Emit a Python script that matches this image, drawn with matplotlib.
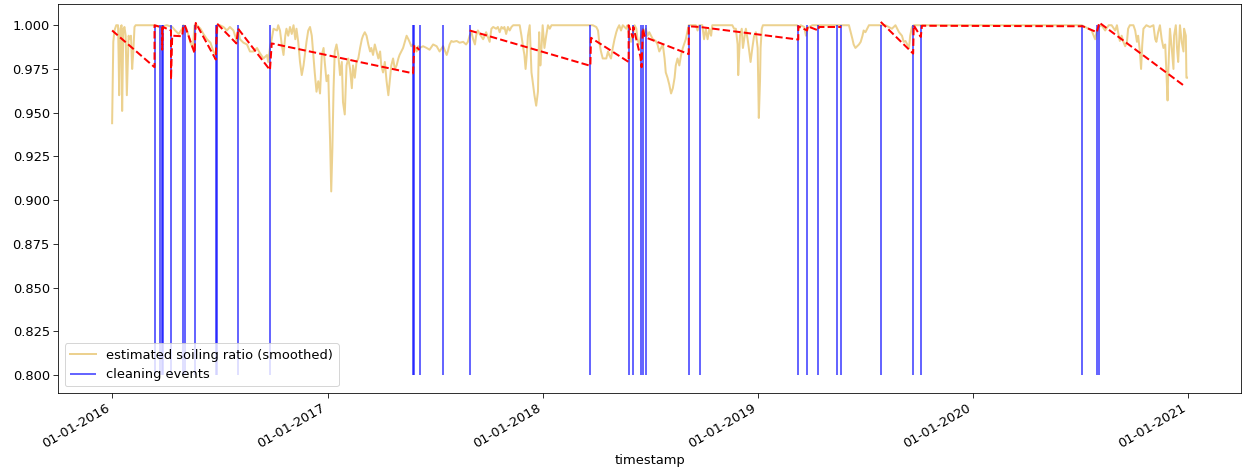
import numpy as np
import pandas as pd
import matplotlib
matplotlib.use("Agg")
import matplotlib.pyplot as plt
import matplotlib.dates as mdates

START = pd.Timestamp("2016-01-01")

# estimated soiling ratio (smoothed): days since 2016-01-01 and value
sr_days = [0, 2, 4, 7, 10, 11, 12, 14, 16, 17, 19, 21, 23, 25, 28, 30, 32, 34, 36, 38,
           40, 70, 82, 93, 102, 107, 113, 119, 121, 126, 130, 133, 137, 140, 144, 150,
           155, 161, 167, 172, 176, 179, 183, 189, 195, 200, 206, 212, 214, 217, 223,
           229, 234, 240, 246, 251, 257, 263, 265, 268, 271, 274, 280, 282, 285, 288,
           291, 294, 296, 299, 302, 305, 308, 311, 313, 316, 319, 322, 325, 328, 330,
           333, 336, 339, 342, 344, 347, 350, 353, 356, 359, 361, 364, 367, 370, 372,
           374, 376, 378, 381, 384, 387, 390, 392, 395, 398, 401, 404, 407, 409, 412,
           415, 418, 421, 424, 426, 429, 432, 435, 438, 440, 443, 446, 449, 452, 455,
           457, 460, 463, 466, 469, 472, 474, 477, 480, 483, 486, 488, 491, 494, 497,
           500, 503, 505, 508, 511, 514, 517, 520, 522, 528, 534, 539, 545, 551, 556,
           562, 568, 570, 573, 576, 579, 585, 590, 596, 601, 604, 607, 610, 613, 616,
           618, 621, 624, 630, 635, 641, 644, 647, 652, 655, 658, 661, 664, 666, 669,
           672, 675, 678, 681, 692, 695, 698, 700, 702, 704, 706, 709, 712, 714, 717,
           720, 723, 725, 727, 729, 731, 734, 737, 740, 743, 746, 810, 816, 822, 825,
           827, 830, 833, 839, 842, 844, 847, 850, 853, 856, 858, 861, 864, 867, 873,
           875, 878, 881, 884, 887, 890, 892, 895, 898, 901, 904, 906, 909, 912, 918,
           923, 926, 929, 932, 935, 938, 940, 943, 946, 949, 952, 955, 957, 960, 963,
           966, 969, 971, 974, 979, 991, 994, 997, 1002, 1005, 1008, 1011, 1014, 1017,
           1019, 1053, 1056, 1059, 1062, 1063, 1066, 1069, 1071, 1074, 1076, 1079,
           1081, 1084, 1087, 1090, 1093, 1096, 1097, 1098, 1100, 1101, 1103, 1105,
           1163, 1166, 1169, 1175, 1178, 1180, 1183, 1189, 1251, 1254, 1257, 1259,
           1262, 1265, 1268, 1271, 1274, 1276, 1279, 1282, 1285, 1313, 1324, 1330,
           1336, 1341, 1344, 1347, 1350, 1353, 1355, 1358, 1361, 1641, 1646, 1652,
           1658, 1663, 1669, 1672, 1675, 1680, 1686, 1692, 1697, 1703, 1706, 1708,
           1711, 1714, 1717, 1720, 1723, 1725, 1728, 1734, 1737, 1740, 1742, 1745,
           1747, 1749, 1751, 1756, 1762, 1768, 1771, 1773, 1776, 1779, 1782, 1785,
           1788, 1790, 1792, 1793, 1796, 1799, 1802, 1803, 1806, 1808, 1810, 1813,
           1816, 1819, 1820, 1823, 1824, 1825]
sr_vals = [0.944, 0.9905, 0.997, 1.0, 1.0, 0.983, 0.960, 0.998, 1.0, 0.951, 0.998, 0.999,
           0.994, 0.960, 0.994, 0.992, 0.994, 0.975, 0.985, 0.999,
           1.0, 1.0, 0.999, 1.0, 0.999, 0.997, 0.995, 0.998, 1.0, 0.998, 0.994, 0.990,
           0.987, 1.0, 1.0, 0.998,
           0.995, 0.992, 0.990, 0.985, 0.983, 1.0, 1.0, 0.999, 0.997, 0.999, 0.997,
           0.9905, 0.998, 0.992, 0.990,
           0.989, 0.985, 0.985, 0.987, 0.984, 0.981, 0.983, 0.979, 0.987, 0.992, 0.998,
           0.997, 1.0, 0.997, 0.989,
           0.983, 0.994, 0.998, 0.994, 0.999, 0.995, 1.0, 0.992, 0.998, 0.9905, 0.979,
           0.9715, 0.977, 0.985, 0.9905,
           0.997, 0.999, 0.994, 0.981, 0.973, 0.962, 0.968, 0.961, 0.983, 0.987, 0.979,
           0.968, 0.9715, 0.935, 0.905,
           0.930, 0.964, 0.985, 0.989, 0.983, 0.9715, 0.979, 0.956, 0.949, 0.977, 0.981,
           0.975, 0.964, 0.977, 0.970,
           0.979, 0.981, 0.987, 0.992, 0.994, 0.996, 0.994, 0.989, 0.985, 0.987, 0.983,
           0.989, 0.985, 0.981, 0.985,
           0.977, 0.973, 0.979, 0.968, 0.960, 0.970, 0.977, 0.981, 0.975, 0.977, 0.981,
           0.983, 0.985, 0.987, 0.9905,
           0.994, 0.992, 0.9905, 0.988, 0.989, 0.987, 0.985, 0.988, 0.987, 0.988, 0.987,
           0.986, 0.989, 0.988, 0.985,
           0.988, 0.983, 0.985, 0.989, 0.991, 0.9905, 0.991, 0.990, 0.9905, 0.989, 0.9905,
           0.994, 0.996, 0.992, 0.989,
           0.994, 0.997, 0.995, 0.992, 0.996, 0.9905, 0.998, 0.999, 0.998, 0.999, 0.996,
           0.999, 0.998, 0.999, 0.995,
           0.999, 0.997, 0.999, 1.0, 1.0, 0.994, 0.987, 0.983, 0.975, 0.983, 0.994, 1.0,
           0.973, 0.968, 0.960,
           0.954, 0.962, 0.996, 0.977, 0.987, 1.0, 0.987, 0.994, 1.0, 0.998, 1.0, 1.0,
           1.0, 0.999, 0.997,
           0.9905, 0.985, 0.981, 0.981, 0.985, 0.983, 0.981, 0.987, 0.992, 0.996, 0.998,
           1.0, 0.997, 1.0, 0.998,
           1.0, 0.994, 0.9905, 0.994, 1.0, 0.998, 0.992, 0.989, 0.994, 0.998, 0.996,
           0.998, 0.994, 0.996, 0.992,
           0.991, 0.989, 0.985, 0.987, 0.989, 0.981, 0.973, 0.970, 0.966, 0.961, 0.964,
           0.970, 0.977, 0.981, 0.977,
           0.983, 0.987, 0.989, 0.992, 1.0, 1.0, 0.997, 1.0, 1.0, 0.992, 0.998, 0.992,
           0.998, 0.994,
           1.0, 1.0, 0.998, 0.998, 0.989, 0.9715, 0.994, 0.998, 0.987, 0.994, 0.998,
           0.992,
           0.987, 0.979, 0.987, 0.994, 0.996, 0.987, 0.968, 0.947, 0.968, 0.987, 0.998,
           1.0,
           1.0, 0.998, 1.0, 0.999, 0.994, 0.998, 0.999, 1.0, 1.0, 0.996, 0.992, 0.989,
           0.987, 0.988, 0.989, 0.9905, 0.994, 0.997, 0.996, 0.998, 1.0, 1.0, 0.998, 1.0,
           0.996, 0.994, 0.9905, 0.991, 0.989, 0.987, 0.994, 0.999, 1.0, 1.0, 1.0, 0.999,
           0.998, 0.997, 0.992, 0.997, 0.999, 1.0, 0.997, 1.0, 1.0, 0.997, 1.0, 0.996,
           0.991, 0.994, 0.9905, 0.988, 0.9905, 0.998, 1.0, 1.0, 0.997, 0.9905, 0.994,
           0.985,
           0.975, 0.989, 0.998, 1.0, 0.999, 1.0, 0.992, 0.9905, 0.996, 1.0, 0.992, 0.987,
           0.989, 0.973, 0.957, 0.9715, 0.998, 0.987, 0.975, 0.994, 1.0, 0.987, 0.979,
           1.0,
           0.9905, 0.985, 0.998, 0.994, 0.970, 0.970]

# cleaning events: days since 2016-01-01
clean_days = [72, 82, 85, 86, 100, 121, 124, 140, 176, 178, 214, 268, 511, 513, 522,
              562, 607, 812, 877, 884, 898, 902, 906, 979, 998, 1165, 1180, 1199,
              1230, 1238, 1305, 1360, 1373, 1647, 1673, 1675]

# fitted soiling profile (red dashed), nan marks a break
fit_days = [0, 72, 72, 82, 85, 85, 86, 100, 100, 102, 119, 121, 124, 140, 142, 176,
            178, 211, 214, 268, 271, 511, 513, 522, 560, 607, 812, 813, 877, 877, 880,
            884, 885, 897, 899, 901, 904, 906, 979, 979, 998, 1165, 1165, 1180, 1181,
            1199, 1200, 1238, 1270, 1305, 1360, 1361, 1373, 1375, 1648, 1672, 1676, 1822]
fit_vals = [0.997, 0.976, 1.0, 0.999, 0.999, 0.986, 0.999, 0.997, 0.969, 0.994, 0.9937,
            1.0, 0.9995, 0.984, 1.0013, 0.9804,
            1.001, 0.9896, 0.998, 0.9744, 0.9896, 0.9725, 0.9886, 0.9858, np.nan, 0.997,
            0.9768, 0.9928, 0.979, 1.0, 0.997,
            0.993, 0.999, 0.982, 0.976, 0.998, 0.994, 0.993, 0.9835, 0.9994, 0.999, 0.9918,
            0.9994, 0.997, 0.9994,
            0.997, 0.999, 0.999, np.nan, 1.0019, 0.9838, 1.0, 0.9933, 0.9997, 0.9994,
            0.996, 1.0015, 0.9649]


def to_dates(days):
    return START + pd.to_timedelta(days, unit="D")


plt.rcParams["font.size"] = 13
fig, ax = plt.subplots(figsize=(1242 / 72, 471 / 72), dpi=72)
fig.subplots_adjust(left=0.047, right=0.999, top=0.991, bottom=0.166)

ax.plot(to_dates(sr_days), sr_vals, color="goldenrod", alpha=0.5, linewidth=2,
        label="estimated soiling ratio (smoothed)")
ax.vlines(to_dates(clean_days), 0.8, 1.0, color="blue", alpha=0.6, linewidth=2,
          label="cleaning events")
ax.plot(to_dates(fit_days), fit_vals, "r--", linewidth=2)

ax.xaxis.set_major_locator(mdates.YearLocator())
ax.xaxis.set_major_formatter(mdates.DateFormatter("%d-%m-%Y"))
ax.yaxis.set_major_formatter(matplotlib.ticker.FormatStrFormatter("%.3f"))
ax.tick_params(length=5)
ax.set_xlabel("timestamp")
ax.legend(loc="lower left")
for lbl in ax.get_xticklabels():
    lbl.set_rotation(30)
    lbl.set_ha("right")

fig.savefig("out.png", dpi=72)
